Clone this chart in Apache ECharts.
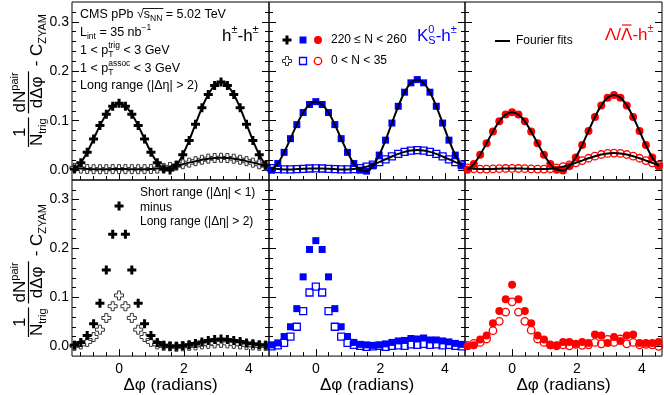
<!DOCTYPE html>
<html><head><meta charset="utf-8">
<script src="https://cdn.jsdelivr.net/npm/echarts@6/dist/echarts.min.js"></script>
<style>html,body{margin:0;padding:0;background:#fff}#c{width:664px;height:395px}</style>
</head><body><div id="c"></div>
<script>
// ---------------- data ----------------
const dphi = [-1.374,-1.178,-0.982,-0.785,-0.589,-0.393,-0.196,0,0.196,0.393,0.589,0.785,0.982,1.178,1.374,1.571,1.767,1.963,2.160,2.356,2.553,2.749,2.945,3.142,3.338,3.534,3.731,3.927,4.123,4.320,4.516];
// long range (top row), high multiplicity 220<=N<260 and low multiplicity 0<N<35
const hhHigh = [0.002,0.015,0.036,0.063,0.090,0.113,0.129,0.135,0.129,0.113,0.090,0.063,0.036,0.015,0.002,0.000,0.010,0.031,0.060,0.093,0.126,0.153,0.171,0.178,0.171,0.153,0.126,0.093,0.060,0.031,0.010];
const hhLow  = [0.0045,0.0031,0.0023,0.0019,0.0018,0.0019,0.0020,0.0020,0.0020,0.0019,0.0018,0.0019,0.0023,0.0031,0.0045,0.0065,0.0090,0.0119,0.0151,0.0181,0.0209,0.0231,0.0245,0.0250,0.0245,0.0231,0.0209,0.0181,0.0151,0.0119,0.0090];
const ksHigh = [-0.0002,0.0133,0.0359,0.0636,0.0920,0.1164,0.1327,0.1385,0.1327,0.1164,0.0920,0.0636,0.0359,0.0133,-0.0002,-0.0020,0.0086,0.0304,0.0606,0.0952,0.1291,0.1576,0.1765,0.1831,0.1765,0.1576,0.1291,0.0952,0.0606,0.0304,0.0086];
const ksLow  = [0.0040,0.0021,0.0014,0.0014,0.0020,0.0027,0.0033,0.0035,0.0033,0.0027,0.0020,0.0014,0.0014,0.0021,0.0040,0.0070,0.0112,0.0163,0.0219,0.0276,0.0328,0.0369,0.0396,0.0405,0.0396,0.0369,0.0328,0.0276,0.0219,0.0163,0.0112];
const laHigh = [0.0008,0.0122,0.0311,0.0544,0.0782,0.0986,0.1123,0.1171,0.1123,0.0986,0.0782,0.0544,0.0311,0.0122,0.0008,-0.0010,0.0076,0.0256,0.0506,0.0792,0.1073,0.1309,0.1466,0.1521,0.1466,0.1309,0.1073,0.0792,0.0506,0.0256,0.0076];
const laLow  = [0.0044,0.0028,0.0021,0.0020,0.0024,0.0029,0.0033,0.0035,0.0033,0.0029,0.0024,0.0020,0.0021,0.0028,0.0044,0.0070,0.0105,0.0147,0.0193,0.0240,0.0282,0.0316,0.0337,0.0345,0.0337,0.0316,0.0282,0.0240,0.0193,0.0147,0.0105];
// short range minus long range (bottom row)
const hhSrHigh = [0.002,0.008,0.022,0.046,0.088,0.156,0.229,0.287,0.229,0.156,0.088,0.046,0.022,0.008,0.002,0.000,0.000,0.001,0.003,0.006,0.009,0.012,0.014,0.015,0.014,0.012,0.010,0.007,0.005,0.003,0.002];
const hhSrLow  = [0.001,0.004,0.009,0.019,0.034,0.058,0.082,0.104,0.082,0.058,0.034,0.019,0.009,0.004,0.001,0.000,-0.001,0.000,0.001,0.002,0.004,0.005,0.006,0.007,0.006,0.005,0.004,0.003,0.002,0.001,0.001];
const ksSrHigh = [0.003,0.007,0.020,0.040,0.077,0.142,0.198,0.216,0.198,0.142,0.077,0.040,0.020,0.008,0.004,0.003,0.002,0.003,0.005,0.008,0.011,0.012,0.016,0.015,0.017,0.013,0.013,0.011,0.009,0.006,0.004];
const ksSrLow  = [0.000,0.002,0.007,0.020,0.040,0.072,0.110,0.122,0.110,0.072,0.040,0.020,0.007,0.003,0.001,-0.001,0.000,0.001,-0.001,0.001,0.002,0.001,0.004,0.003,0.005,0.003,0.004,0.002,0.003,0.001,0.000];
const laSrHigh = [0.000,0.002,0.014,0.022,0.047,0.072,0.096,0.126,0.096,0.072,0.047,0.022,0.014,0.002,0.002,0.009,0.009,0.005,0.009,0.007,0.024,0.022,0.007,0.019,0.011,0.022,0.024,0.007,0.007,0.007,0.009];
const laSrLow  = [0.002,0.006,0.008,0.015,0.032,0.051,0.070,0.091,0.070,0.051,0.033,0.015,0.008,0.003,0.001,0.003,0.001,0.004,0.002,0.003,0.008,0.005,0.014,0.008,0.015,0.005,0.008,0.003,0.004,0.003,0.000];
const xTickLabels = [0, 2, 4];
const xMinorTicks = [-1.2,-0.8,-0.4,0.4,0.8,1.2,1.6,2.4,2.8,3.2,3.6,4.4];
const yTickLabels = [0, 0.1, 0.2, 0.3];
const yMinorTicks = [0.02,0.04,0.06,0.08,0.12,0.14,0.16,0.18,0.22,0.24,0.26,0.28,0.32];

// ---------------- layout ----------------
const FONT = '"Liberation Sans", Arial, Helvetica, sans-serif';
const XMIN = -1.45, XMAX = 4.62, YMIN = -0.02, YMAX = 0.34;
const cols = [{left:72,width:197},{left:269,width:196},{left:465,width:197}];
const rows = [{top:2,height:178},{top:180,height:177}];
const BLUE = '#0000ff', RED = '#ff0000';
const crossPath = 'path://M3,0H6V3H9V6H6V9H3V6H0V3H3Z';
const MK = {
  cross:   {symbol: crossPath, symbolSize: 9, itemStyle:{color:'#000', opacity:1}},
  ocross:  {symbol: crossPath, symbolSize: 9, itemStyle:{color:'#fff', borderColor:'#333', borderWidth:1, opacity:1}},
  square:  {symbol: 'rect', symbolSize: 7, itemStyle:{color:BLUE, opacity:1}},
  osquare: {symbol: 'rect', symbolSize: 7, itemStyle:{color:'rgba(255,255,255,0)', borderColor:BLUE, borderWidth:1.3, opacity:1}},
  circle:  {symbol: 'circle', symbolSize: 8, itemStyle:{color:RED, opacity:1}},
  ocircle: {symbol: 'circle', symbolSize: 7.5, itemStyle:{color:'rgba(255,255,255,0)', borderColor:RED, borderWidth:1.3, opacity:1}}
};
const panels = [
  {r:0,c:0, sets:[[hhLow,'ocross'],[hhHigh,'cross']], fits:[hhLow,hhHigh]},
  {r:0,c:1, sets:[[ksLow,'osquare'],[ksHigh,'square']], fits:[ksLow,ksHigh]},
  {r:0,c:2, sets:[[laLow,'ocircle'],[laHigh,'circle']], fits:[laLow,laHigh]},
  {r:1,c:0, sets:[[hhSrLow,'ocross'],[hhSrHigh,'cross']], fits:[]},
  {r:1,c:1, sets:[[ksSrLow,'osquare'],[ksSrHigh,'square']], fits:[]},
  {r:1,c:2, sets:[[laSrLow,'ocircle'],[laSrHigh,'circle']], fits:[]}
];
const grids=[], xAxes=[], yAxes=[], series=[];
const pairs = arr => dphi.map((x,i)=>[x, arr[i]]);
panels.forEach((p, gi) => {
  grids.push({left:cols[p.c].left, width:cols[p.c].width, top:rows[p.r].top, height:rows[p.r].height,
    show:true, borderColor:'#000', borderWidth:1, backgroundColor:'rgba(0,0,0,0)'});
  const xBase = {gridIndex:gi, type:'value', min:XMIN, max:XMAX, position:'bottom',
    axisLine:{show:false, onZero:false}, splitLine:{show:false}};
  xAxes.push(Object.assign({}, xBase, {
    axisTick:{show:true, inside:true, length:7, customValues:xTickLabels, lineStyle:{color:'#000'}},
    axisLabel:{show:p.r===1, customValues:xTickLabels, fontSize:14, color:'#000', margin:6, fontFamily:FONT},
    name: p.r===1 ? 'Δφ (radians)' : '', nameLocation:'middle', nameGap:14,
    nameTextStyle:{fontSize:17, color:'#000', fontFamily:FONT, verticalAlign:'top'}
  }));
  xAxes.push(Object.assign({}, xBase, {
    axisTick:{show:true, inside:true, length:4, customValues:xMinorTicks, lineStyle:{color:'#000'}},
    axisLabel:{show:false}
  }));
  const yBase = {gridIndex:gi, type:'value', min:YMIN, max:YMAX, axisLine:{show:false, onZero:false}, splitLine:{show:false}};
  ['left','right'].forEach(pos => {
    yAxes.push(Object.assign({}, yBase, {position:pos,
      axisTick:{show:true, inside:true, length:7, customValues:yTickLabels, lineStyle:{color:'#000'}},
      axisLabel:{show:(pos==='left' && p.c===0), customValues:yTickLabels, fontSize:14, color:'#000', margin:3,
        fontFamily:FONT, formatter:v=>v.toFixed(1)}
    }));
    yAxes.push(Object.assign({}, yBase, {position:pos,
      axisTick:{show:true, inside:true, length:4, customValues:yMinorTicks, lineStyle:{color:'#000'}},
      axisLabel:{show:false}
    }));
  });
  p.sets.forEach(([arr, mk], k) => {
    series.push(Object.assign({type:'scatter', xAxisIndex:2*gi, yAxisIndex:4*gi, data:pairs(arr),
      silent:true, z:2+k, animation:false}, MK[mk]));
  });
  p.fits.forEach(arr => {
    series.push({type:'line', xAxisIndex:2*gi, yAxisIndex:4*gi, data:pairs(arr), smooth:0.35,
      showSymbol:false, silent:true, z:6, animation:false, lineStyle:{color:'#000', width:2}});
  });
});

// ---------------- text helpers ----------------
const cv = document.createElement('canvas').getContext('2d');
function tw(t, s){ cv.font = s + 'px "Liberation Sans"'; return cv.measureText(t).width; }
// segs: [text, size, dy, stackWithPrevious]
function runs(x0, y0, segs, color, out){
  let x = x0, prevStart = x0, starts = [];
  segs.forEach(s => {
    const [t, size, dy, stack] = s;
    const sx = stack ? prevStart : x;
    const w = tw(t, size);
    out.push({type:'text', x:sx, y:y0 + (dy||0), silent:true,
      style:{text:t, fontSize:size, fontFamily:FONT, fill:color, align:'left', verticalAlign:'middle'}});
    starts.push([sx, sx + w]);
    if (stack) { x = Math.max(x, sx + w); } else { prevStart = sx; x = sx + w; }
  });
  return starts;
}
const G = [];
// top-left info
const F1 = 12.5, S1 = 8.5;
let r = runs(80, 15, [['CMS pPb ',F1,0],['√',F1,0],['s',F1,0],['NN',S1,4],[' = 5.02 TeV',F1,0]], '#000', G);
G.push({type:'line', silent:true, shape:{x1:r[1][1]-1, y1:8.5, x2:r[3][1]+1, y2:8.5}, style:{stroke:'#000', lineWidth:0.9}});
runs(80, 33, [['L',F1,0],['int',S1,4],[' = 35 nb',F1,0],['−1',S1,-5]], '#000', G);
runs(80, 51, [['1 < p',F1,0],['T',S1,4],['trig',S1,-5,true],[' < 3 GeV',F1,0]], '#000', G);
runs(80, 69, [['1 < p',F1,0],['T',S1,4],['assoc',S1,-5,true],[' < 3 GeV',F1,0]], '#000', G);
runs(80, 86, [['Long range (|Δη| > 2)',F1,0]], '#000', G);
runs(222, 36, [['h',17,0],['±',11,-6],['-h',17,0],['±',11,-6]], '#000', G);
runs(417, 36, [['K',17,0],['S',11,5],['0',11,-6,true],['-h',17,0],['±',11,-6]], BLUE, G);
r = runs(605, 35, [['Λ/',17,0],['Λ',17,0],['-h',17,0],['±',11,-6]], RED, G);
G.push({type:'line', silent:true, shape:{x1:r[1][0]+1, y1:25, x2:r[1][1]-1, y2:25}, style:{stroke:RED, lineWidth:1.2}});
// bottom-left
runs(140, 193, [['Short range (|Δη| < 1)',12,0]], '#000', G);
runs(140, 208, [['minus',12,0]], '#000', G);
runs(140, 222, [['Long range (|Δη| > 2)',12,0]], '#000', G);
// legend markers
function crossPts(cx, cy, s){ const a=s/6, h=s/2;
  return [[cx-a,cy-h],[cx+a,cy-h],[cx+a,cy-a],[cx+h,cy-a],[cx+h,cy+a],[cx+a,cy+a],[cx+a,cy+h],[cx-a,cy+h],[cx-a,cy+a],[cx-h,cy+a],[cx-h,cy-a],[cx-a,cy-a]]; }
[[40,true],[61,false]].forEach(([y, full]) => {
  G.push({type:'polygon', silent:true, shape:{points:crossPts(287,y,9)}, style: full?{fill:'#000'}:{fill:'#fff', stroke:'#333', lineWidth:1}});
  G.push({type:'rect', silent:true, shape:{x:299.5, y:y-3.5, width:7, height:7}, style: full?{fill:BLUE}:{fill:'none', stroke:BLUE, lineWidth:1.3}});
  G.push({type:'circle', silent:true, shape:{cx:318, cy:y, r: full?4:3.7}, style: full?{fill:RED}:{fill:'none', stroke:RED, lineWidth:1.3}});
});
runs(331, 40, [['220 ≤ N < 260',12,0]], '#000', G);
runs(331, 61, [['0 < N < 35',12,0]], '#000', G);
G.push({type:'line', silent:true, shape:{x1:495, y1:41, x2:510, y2:41}, style:{stroke:'#000', lineWidth:2}});
runs(516, 41, [['Fourier fits',12,0]], '#000', G);

// rotated y titles
function yTitle(X, Yb){
  const F = 17, S = 11, NY = 8, DY = 9;
  const ch = [];
  const T = (t, x, y, size, align) => ch.push({type:'text', x, y, silent:true,
    style:{text:t, fontSize:size, fontFamily:FONT, fill:'#000', align:align||'left', verticalAlign:'middle'}});
  let x = 0;
  // 1 / N_trig
  let denW = tw('N',F) + tw('trig',S), barW = Math.max(tw('1',F), denW) + 2;
  T('1', x + barW/2, -NY, F, 'center');
  ch.push({type:'line', silent:true, shape:{x1:x, y1:0, x2:x+barW, y2:0}, style:{stroke:'#000', lineWidth:1.2}});
  let dx = x + (barW - denW)/2;
  T('N', dx, DY, F); T('trig', dx + tw('N',F), DY + 5, S);
  x += barW + 4;
  // dN^pair / dΔφ
  const numW = tw('dN',F) + tw('pair',S); denW = tw('dΔφ',F); barW = Math.max(numW, denW) + 2;
  dx = x + (barW - numW)/2;
  T('dN', dx, -NY, F); T('pair', dx + tw('dN',F), -NY - 6, S);
  ch.push({type:'line', silent:true, shape:{x1:x, y1:0, x2:x+barW, y2:0}, style:{stroke:'#000', lineWidth:1.2}});
  T('dΔφ', x + barW/2, DY, F, 'center');
  x += barW + 5;
  T('-', x, DY - 1, F); x += tw('- ', F);
  T('C', x, DY, F); T('ZYAM', x + tw('C',F), DY + 5, S);
  G.push({type:'group', x:X, y:Yb, rotation:Math.PI/2, children:ch, silent:true});
}
yTitle(28.5, 147);
yTitle(28.5, 337);

const chart = echarts.init(document.getElementById('c'), null, {renderer:'canvas'});
chart.setOption({
  animation:false, backgroundColor:'#fff',
  grid:grids, xAxis:xAxes, yAxis:yAxes, series:series, graphic:G
});
</script></body></html>
